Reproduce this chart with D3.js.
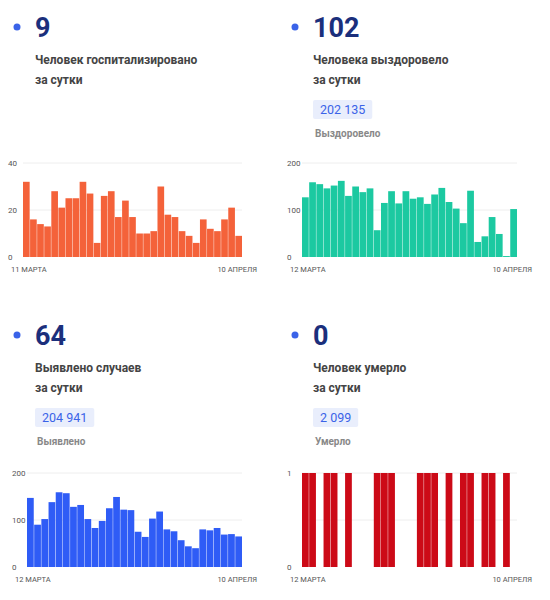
<!DOCTYPE html>
<html lang="ru">
<head>
<meta charset="UTF-8">
<script src="https://d3js.org/d3.v7.min.js"></script>
<style>
  body { margin: 0; background: #fff; font-family: Roboto, "Noto Sans", Arial, sans-serif; }
</style>
</head>
<body>
<svg id="chart" width="550" height="600"></svg>
<script>
// данные
const hospitalized = [32,16,14,13,28,21,25,25,32,27,6,26,28,17,24,17,10,10,11,30,18,17,11,9,6,16,12,11,16,21,9];
const recovered = [127,159,155,146,152,162,130,150,138,146,57,115,140,114,140,124,127,113,133,147,117,103,72,141,32,44,85,49,2,102];
const detected = [147,90,102,138,159,157,128,132,102,83,98,125,149,122,121,75,64,103,118,80,76,57,44,40,80,78,83,69,70,65];
const deaths = [1,1,0,1,1,0,1,0,0,0,1,1,1,0,0,0,1,1,1,0,1,0,1,1,0,1,1,0,1,0];

const panels = [
  {x: 17, y: 0, value: "9", title: ["Человек госпитализировано", "за сутки"], total: null, totalLabel: null,
   data: hospitalized, color: "#f4623a", ticks: [0, 20, 40], max: 40, grid: [20, 40],
   plot: [23, 242], yTop: 163, yBot: 257, start: "11 МАРТА", end: "10 АПРЕЛЯ"},
  {x: 295, y: 0, value: "102", title: ["Человека выздоровело", "за сутки"], total: "202 135", totalLabel: "Выздоровело",
   data: recovered, color: "#1cc9a1", ticks: [0, 100, 200], max: 200, grid: [100, 200],
   plot: [302, 517], yTop: 163, yBot: 257, start: "12 МАРТА", end: "10 АПРЕЛЯ"},
  {x: 17, y: 308, value: "64", title: ["Выявлено случаев", "за сутки"], total: "204 941", totalLabel: "Выявлено",
   data: detected, color: "#2f5cf6", ticks: [0, 100, 200], max: 200, grid: [100, 200],
   plot: [27, 242], yTop: 473, yBot: 567, start: "12 МАРТА", end: "10 АПРЕЛЯ"},
  {x: 295, y: 308, value: "0", title: ["Человек умерло", "за сутки"], total: "2 099", totalLabel: "Умерло",
   data: deaths, color: "#cc0a17", ticks: [0, 1], max: 1, grid: [0.5, 1],
   plot: [302, 517], yTop: 473, yBot: 567, start: "12 МАРТА", end: "10 АПРЕЛЯ"}
];

const svg = d3.select("#chart");

panels.forEach(p => {
  const g = svg.append("g");
  // заголовок
  g.append("circle").attr("cx", p.x).attr("cy", p.y + 27).attr("r", 3.5).attr("fill", "#3a63e8");
  g.append("text").attr("x", p.x + 18).attr("y", p.y + 37).text(p.value)
    .attr("font-size", 27).attr("font-weight", 700).attr("fill", "#1b2f7c");
  p.title.forEach((t, i) => {
    g.append("text").attr("x", p.x + 18).attr("y", p.y + 64 + i * 20).text(t)
      .attr("font-size", 12).attr("font-weight", 700).attr("fill", "#444");
  });
  if (p.total) {
    const t = g.append("text").attr("x", p.x + 25).attr("y", p.y + 114).text(p.total)
      .attr("font-size", 12.5).attr("fill", "#3a63e8");
    const w = t.node().getComputedTextLength();
    g.insert("rect", "text").attr("x", p.x + 18).attr("y", p.y + 100).attr("width", w + 14).attr("height", 19)
      .attr("rx", 2).attr("fill", "#e9eefc");
    g.append("text").attr("x", p.x + 20).attr("y", p.y + 137).text(p.totalLabel)
      .attr("font-size", 10).attr("font-weight", 700).attr("fill", "#888");
  }

  // график
  const x = d3.scaleBand().domain(d3.range(p.data.length)).range(p.plot).paddingInner(0.06);
  const y = d3.scaleLinear().domain([0, p.max]).range([p.yBot, p.yTop]);

  g.selectAll(".grid").data(p.grid).join("line")
    .attr("x1", p.plot[0]).attr("x2", p.plot[1])
    .attr("y1", d => y(d)).attr("y2", d => y(d))
    .attr("stroke", "#eee").attr("stroke-width", 1);

  g.selectAll(".tick").data(p.ticks).join("text")
    .attr("x", p.plot[0] - 15).attr("y", d => y(d) + 3).text(d => d)
    .attr("font-size", 8).attr("fill", "#555");

  g.selectAll(".bar").data(p.data).join("rect")
    .attr("x", (d, i) => x(i)).attr("width", x.bandwidth())
    .attr("y", d => y(d)).attr("height", d => p.yBot - y(d))
    .attr("fill", p.color);

  g.append("text").attr("x", p.plot[0] - 12).attr("y", p.yBot + 15).text(p.start)
    .attr("font-size", 7.5).attr("fill", "#555");
  g.append("text").attr("x", p.plot[1] + 15).attr("y", p.yBot + 15).text(p.end)
    .attr("text-anchor", "end").attr("font-size", 7.5).attr("fill", "#555");
});
</script>
</body>
</html>
